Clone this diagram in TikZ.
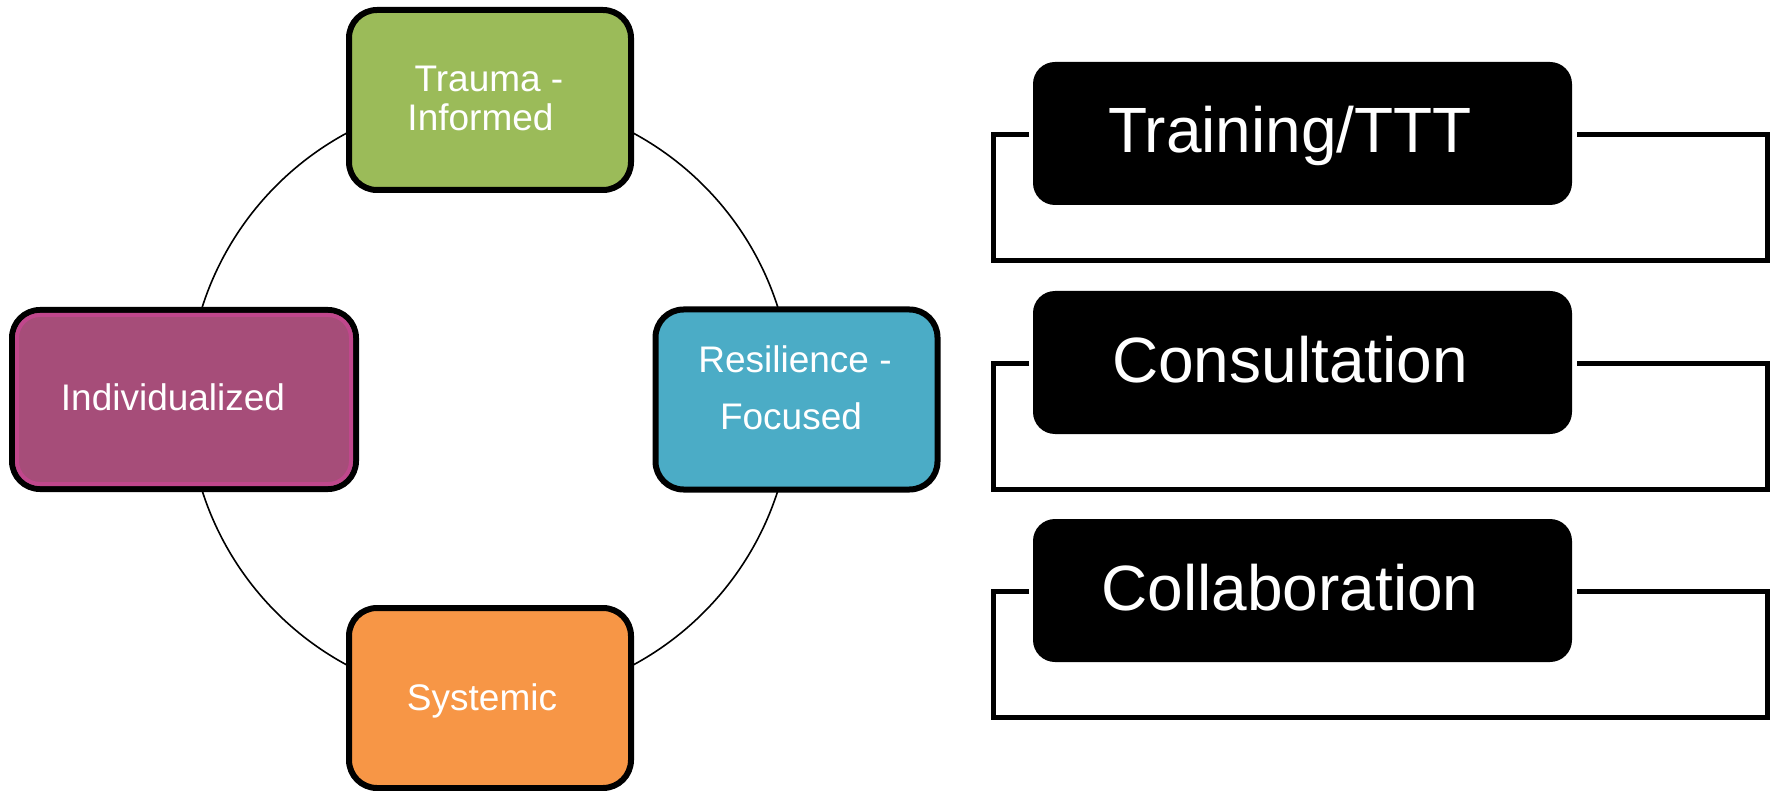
\documentclass[tikz,border=0pt]{standalone}
\usepackage{fontspec}
\setmainfont{Liberation Sans}
\definecolor{tgreen}{RGB}{155,187,89}
\definecolor{tblue}{RGB}{75,172,198}
\definecolor{torange}{RGB}{247,150,70}
\definecolor{tpurple}{RGB}{166,77,121}
\definecolor{tpink}{RGB}{192,71,140}
\begin{document}
\begin{tikzpicture}[x=1pt,y=-1pt,
  cbox/.style={draw=black,line width=6pt,rounded corners=28pt,minimum width=282pt,minimum height=180pt,inner sep=0pt,outer sep=0pt},
  bbox/.style={fill=black,rounded corners=22pt,minimum width=539pt,minimum height=143pt,inner sep=0pt,outer sep=0pt},
  ctext/.style={text=white,font=\fontsize{37}{39}\selectfont,anchor=base,inner sep=0pt},
  btext/.style={text=white,font=\fontsize{64}{70}\selectfont,anchor=base,inner sep=0pt},
  brk/.style={line width=5pt,line join=miter}]
\useasboundingbox (0,0) rectangle (1771,791);
\fill[white] (0,0) rectangle (1771,791);
% circle
\coordinate (cc) at (490,399);
\draw[line width=1.6pt] (cc) circle[radius=302pt];
% boxes on circle
\node[cbox,fill=tgreen] (trauma) at (490,100) {};
\node[cbox,fill=torange] (systemic) at (490,698) {};
\node[cbox,fill=tblue] (resil) at (796.5,399.5) {};
\node[cbox,fill=tpurple,minimum width=344pt,minimum height=179pt] (indiv) at (184,399.5) {};
\draw[tpink,line width=4pt,rounded corners=23pt] ([xshift=5pt,yshift=-5pt]indiv.north west) rectangle ([xshift=-5pt,yshift=5pt]indiv.south east);
% texts
\node[ctext] (t1) at (489,92) {Trauma -};
\node[ctext] (t2) at (480.5,131) {Informed};
\node[ctext] (r1) at (795,372) {Resilience -};
\node[ctext] (r2) at (791,429) {Focused};
\node[ctext] (i1) at (173,410) {Individualized};
\node[ctext] (s1) at (482,710) {Systemic};
% black boxes
\node[bbox] (b1) at (1302.5,133.5) {};
\node[bbox] (b2) at (1302.5,362.5) {};
\node[bbox] (b3) at (1302.5,590.5) {};
\node[btext] (bt1) at (1290,153) {Training/TTT};
\node[btext] (bt2) at (1290,382) {Consultation};
\node[btext] (bt3) at (1290,610) {Collaboration};
% brackets
\foreach \b in {b1,b2,b3}{
  \draw[brk] ([xshift=-4pt,yshift=-1pt]\b.west) -| ([xshift=-39.5pt,yshift=-127pt]\b.west)
    -- ([xshift=195pt,yshift=-127pt]\b.east) |- ([xshift=5pt,yshift=-1pt]\b.east);
}
\end{tikzpicture}
\end{document}
